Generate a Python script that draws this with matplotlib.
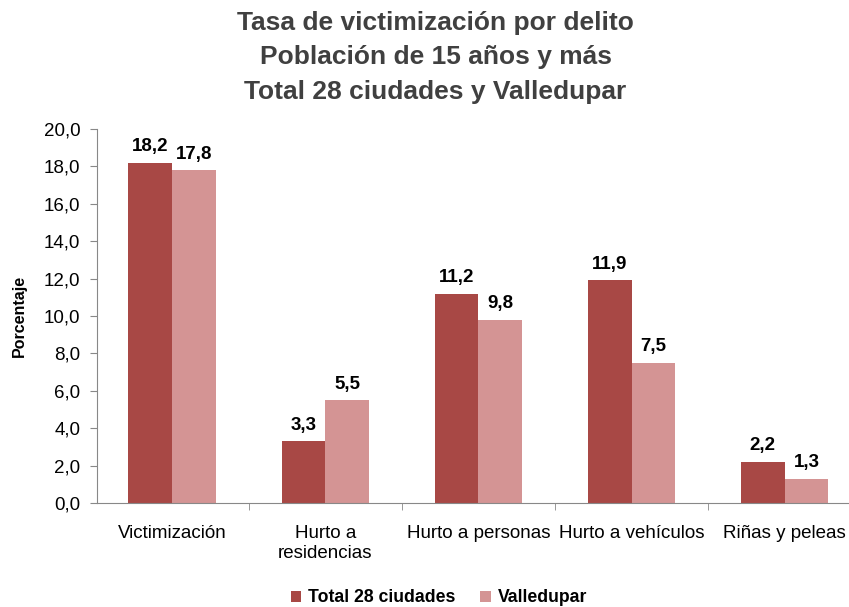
import matplotlib.pyplot as plt
import numpy as np

plt.rcParams['font.family'] = ['Liberation Sans', 'DejaVu Sans']

categorias = ['Victimización', 'Hurto a\nresidencias', 'Hurto a personas',
              'Hurto a vehículos', 'Riñas y peleas']
total_28 = [18.2, 3.3, 11.2, 11.9, 2.2]
valledupar = [17.8, 5.5, 9.8, 7.5, 1.3]
total_lbl = ['18,2', '3,3', '11,2', '11,9', '2,2']
valle_lbl = ['17,8', '5,5', '9,8', '7,5', '1,3']

fig = plt.figure(figsize=(8.49, 6.07), dpi=100)
ax = fig.add_axes([97 / 849, 1 - 503 / 607, 1 - 97 / 849, 374 / 607])

ind = np.arange(len(categorias))
width = 0.285
b1 = ax.bar(ind - width / 2, total_28, width, color='#A84845', label='Total 28 ciudades')
b2 = ax.bar(ind + width / 2, valledupar, width, color='#D49494', label='Valledupar')

for bars, lbls in ((b1, total_lbl), (b2, valle_lbl)):
    for rect, t in zip(bars, lbls):
        ax.text(rect.get_x() + rect.get_width() / 2, rect.get_height() + 0.4, t,
                ha='center', va='bottom', fontsize=13.5, fontweight='bold')

ax.set_xlim(-0.49, 4.42)
ax.set_ylim(0, 20)
ax.set_yticks(np.arange(0, 20.1, 2))
ax.set_yticklabels([f'{v:.1f}'.replace('.', ',') for v in np.arange(0, 20.1, 2)], fontsize=13.5)
ax.set_xticks(ind)
ax.set_xticklabels(categorias, fontsize=13.5, va='top')
ax.tick_params(axis='x', length=0, pad=16)
ax.set_xticks(np.arange(0.5, 4.5, 1), minor=True)
ax.tick_params(axis='x', which='minor', length=5, color='#888888')
ax.tick_params(axis='y', length=5, color='#888888', pad=7)

for s in ('top', 'right'):
    ax.spines[s].set_visible(False)
ax.spines['left'].set_color('#888888')
ax.spines['bottom'].set_color('#888888')

ax.set_ylabel('Porcentaje', fontsize=11.5, fontweight='bold', labelpad=12)

fig.suptitle('Tasa de victimización por delito\nPoblación de 15 años y más\nTotal 28 ciudades y Valledupar',
             x=0.513, y=0.982, fontsize=19, fontweight='bold', color='#404040', linespacing=1.55)

leg = fig.legend(loc='center', bbox_to_anchor=(0.517, 0.015), ncol=2, frameon=False,
                 prop={'size': 12.7, 'weight': 'bold'}, handlelength=0.6, handleheight=0.6,
                 columnspacing=1.4, handletextpad=0.4)

fig.savefig('out.png', dpi=100)
